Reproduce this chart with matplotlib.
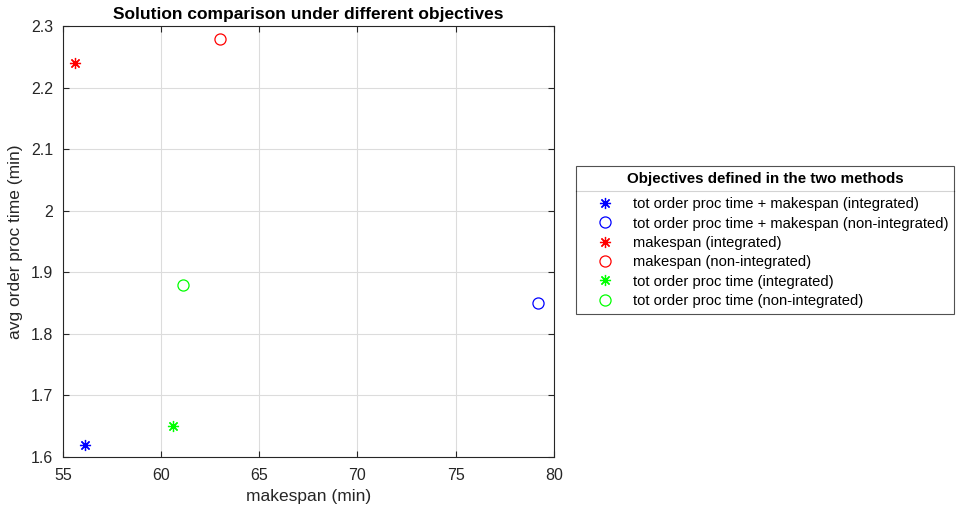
import matplotlib
matplotlib.use("Agg")
from matplotlib import pyplot as plt
from matplotlib.lines import Line2D

plt.rcParams['font.family'] = ['Liberation Sans', 'DejaVu Sans']

# makespan (min) vs avg order proc time (min)
labels = [
    "tot order proc time + makespan (integrated)",
    "tot order proc time + makespan (non-integrated)",
    "makespan (integrated)",
    "makespan (non-integrated)",
    "tot order proc time (integrated)",
    "tot order proc time (non-integrated)",
]
makespan = [56.1, 79.2, 55.6, 63.0, 60.6, 61.1]
avgProcTime = [1.62, 1.85, 2.24, 2.28, 1.65, 1.88]
colors = ["#0000ff", "#0000ff", "#ff0000", "#ff0000", "#00ff00", "#00ff00"]
kinds = ["star", "circle", "star", "circle", "star", "circle"]

xTicks = [55, 60, 65, 70, 75, 80]
yTicks = [1.6, 1.7, 1.8, 1.9, 2.0, 2.1, 2.2, 2.3]
yTickLabels = ["1.6", "1.7", "1.8", "1.9", "2", "2.1", "2.2", "2.3"]

fig = plt.figure(figsize=(9.58, 5.14), dpi=100)
ax = fig.add_axes([0.0658, 0.111, 0.5122, 0.838])

for x, y, c, k, lab in zip(makespan, avgProcTime, colors, kinds, labels):
    if k == "star":
        ax.plot(x, y, linestyle="none", marker=(8, 2, 0), markersize=8,
                markeredgecolor=c, markeredgewidth=0.9, label=lab)
    else:
        ax.plot(x, y, linestyle="none", marker="o", markersize=8,
                markerfacecolor="none", markeredgecolor=c, markeredgewidth=0.9, label=lab)

ax.set_xlim(55, 80)
ax.set_ylim(1.6, 2.3)
ax.set_xticks(xTicks)
ax.set_yticks(yTicks)
ax.set_yticklabels(yTickLabels)
ax.grid(True, color="#dcdcdc", linewidth=0.8)
ax.set_axisbelow(True)
for s in ax.spines.values():
    s.set_color("#262626")
    s.set_linewidth(0.8)
ax.tick_params(direction="in", top=True, right=True, length=4, width=0.8,
               colors="#262626", labelsize=11.5)
ax.tick_params(axis="x", pad=8)
ax.tick_params(axis="y", pad=7)
for lbl in ax.get_xticklabels() + ax.get_yticklabels():
    lbl.set_color("#262626")

ax.set_xlabel("makespan (min)", fontsize=12.5, color="#262626", labelpad=4)
ax.set_ylabel("avg order proc time (min)", fontsize=12.5, color="#262626", labelpad=6)
ax.set_title("Solution comparison under different objectives", fontsize=12.5,
             fontweight="bold", pad=5)

leg = fig.legend(loc="center left", bbox_to_anchor=(576 / 958, 1 - 240 / 514),
                 borderaxespad=0,
                 title="Objectives defined in the two methods",
                 title_fontproperties={"weight": "bold", "size": 10.9},
                 fontsize=10.6, frameon=True, fancybox=False, edgecolor="#262626",
                 handletextpad=0.25, labelspacing=0.36, borderpad=0.4, handlelength=3.2)
leg.get_frame().set_linewidth(0.8)
leg._legend_box.sep = 8  # a bit more room under the title, like the original

# separator under the legend title
fig.canvas.draw()
r = fig.canvas.get_renderer()
lb = leg.get_window_extent(r)
tb = leg.get_title().get_window_extent(r)
hb = leg._legend_handle_box.get_window_extent(r)
yLine = ((tb.y0 + hb.y1) / 2 + 1) / fig.bbox.height
fig.add_artist(Line2D([lb.x0 / fig.bbox.width, lb.x1 / fig.bbox.width], [yLine, yLine],
                      color="#262626", linewidth=0.8))

fig.savefig("out.png", dpi=100)
